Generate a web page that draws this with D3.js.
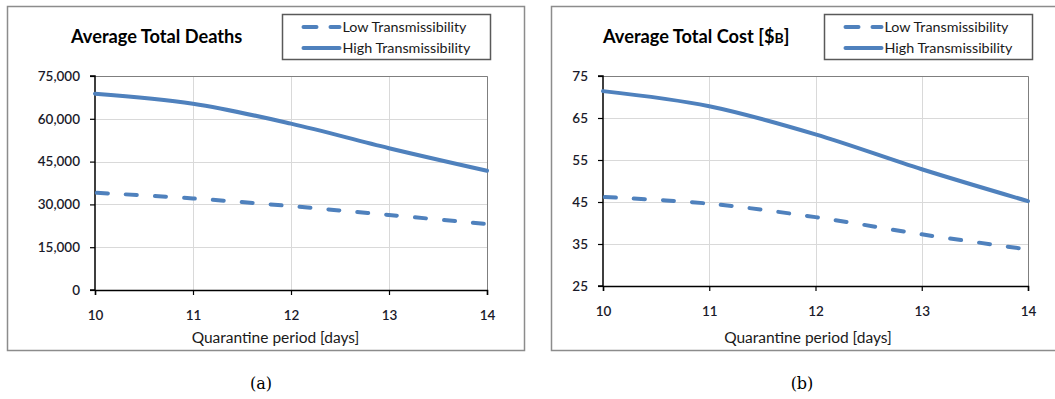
<!DOCTYPE html>
<html><head><meta charset="utf-8">
<script src="https://cdn.jsdelivr.net/npm/d3@7"></script>
<style>body{margin:0;background:#fff}svg{display:block}</style>
</head><body>
<svg id="c" width="1055" height="399"></svg>
<script>
const days = [10, 11, 12, 13, 14];
const deathsLow = [34100, 32100, 29400, 26300, 23100];
const deathsHigh = [68800, 65300, 58300, 49700, 41800];
const costLow = [46.2, 44.6, 41.4, 37.3, 33.7];
const costHigh = [71.4, 67.8, 61.1, 52.8, 45.2];
const deathTicks = [0, 15000, 30000, 45000, 60000, 75000];
const costTicks = [25, 35, 45, 55, 65, 75];
const seriesNames = ["Low Transmissibility", "High Transmissibility"];
const titles = ["Average Total Deaths", "Average Total Cost [$"];
const captions = ["(a)", "(b)"];
const xTitle = "Quarantine period [days]";

const svg = d3.select("#c");
const blue = "#4F81BD";
const font = "Lato, 'Open Sans', sans-serif";

const panels = [
  {frame:[7.5, 6.5, 517, 344], plot:[95, 76, 487, 290], yDom:[0, 75000], ticks: deathTicks, fmt: d3.format(","),
   low: deathsLow, high: deathsHigh, title: titles[0], titleX: 71, legend:[282.5, 14.5], cap: captions[0], capX: 261, xtX: 275.5},
  {frame:[551.5, 6.5, 520, 344], plot:[603, 76, 1028, 286], yDom:[25, 75], ticks: costTicks, fmt: d3.format("d"),
   low: costLow, high: costHigh, title: titles[1], titleX: 603, legend:[824.5, 14.5], cap: captions[1], capX: 802, xtX: 808}
];

panels.forEach(p => {
  const g = svg.append("g");
  g.append("rect").attr("x", p.frame[0]).attr("y", p.frame[1]).attr("width", p.frame[2]).attr("height", p.frame[3])
    .attr("fill", "#fff").attr("stroke", "#8c8c8c").attr("stroke-width", 1.5);
  const [x0, y0, x1, y1] = p.plot;
  const x = d3.scaleLinear().domain([10, 14]).range([x0, x1]);
  const y = d3.scaleLinear().domain(p.yDom).range([y1, y0]);

  // gridlines
  g.append("g").selectAll("line.h").data(p.ticks.slice(1)).join("line")
    .attr("x1", x0).attr("x2", x1).attr("y1", d => Math.round(y(d)) + 0.5).attr("y2", d => Math.round(y(d)) + 0.5)
    .attr("stroke", "#d9d9d9").attr("stroke-width", 1);
  g.append("g").selectAll("line.v").data(days.slice(1)).join("line")
    .attr("y1", y0).attr("y2", y1).attr("x1", d => Math.round(x(d)) + 0.5).attr("x2", d => Math.round(x(d)) + 0.5)
    .attr("stroke", "#d9d9d9").attr("stroke-width", 1);
  g.append("path").attr("d", `M${x0},${y0 + 0.5}H${x1 + 0.5}V${y1}`).attr("fill", "none").attr("stroke", "#7f7f7f").attr("stroke-width", 1);

  // axes
  const ya = d3.axisLeft(y).tickValues(p.ticks).tickFormat(p.fmt).tickSize(5).tickPadding(10);
  const ax = g.append("g").attr("transform", `translate(${x0},0)`).call(ya);
  const xa = d3.axisBottom(x).tickValues(days).tickFormat(d3.format("d")).tickSize(5).tickPadding(15);
  const bx = g.append("g").attr("transform", `translate(0,${y1})`).call(xa);
  [ax, bx].forEach(a => {
    a.select(".domain").attr("stroke", "#000").attr("stroke-width", 1.5);
    a.selectAll(".tick line").attr("stroke", "#000").attr("stroke-width", 1.2);
    a.selectAll("text").attr("font-family", font).attr("font-size", 13.5).attr("fill", "#1a1a2a").attr("font-weight", 600);
  });
  ax.select(".domain").attr("d", `M-5,${y1}H0V${y0}H-5`);

  // lines
  const line = d3.line().x((d, i) => x(days[i])).y(d => y(d)).curve(d3.curveCatmullRom.alpha(0));
  g.append("path").attr("d", line(p.high)).attr("fill", "none").attr("stroke", blue).attr("stroke-width", 4).attr("stroke-linecap", "round");
  g.append("path").attr("d", line(p.low)).attr("fill", "none").attr("stroke", blue).attr("stroke-width", 4)
    .attr("stroke-linecap", "round").attr("stroke-dasharray", "11,18").attr("stroke-dashoffset", -2);

  // title
  const t = g.append("text").attr("x", p.titleX).attr("y", 43).attr("font-family", font)
    .attr("font-size", 18.2).attr("font-weight", "bold").attr("fill", "#000").text(p.title);
  if (p.title.endsWith("$")) {
    t.append("tspan").attr("font-size", 14).text("B");
    t.append("tspan").text("]");
  }

  // legend
  const [lx, ly] = p.legend;
  g.append("rect").attr("x", lx).attr("y", ly).attr("width", 208).attr("height", 45).attr("fill", "#fff")
    .attr("stroke", "#595959").attr("stroke-width", 1.5);
  seriesNames.forEach((name, i) => {
    const yy = ly + 12.5 + i * 21;
    g.append("line").attr("x1", lx + 21).attr("x2", lx + 57).attr("y1", yy).attr("y2", yy)
      .attr("stroke", blue).attr("stroke-width", 4).attr("stroke-linecap", "round")
      .attr("stroke-dasharray", i === 0 ? "13,14" : null);
    g.append("text").attr("x", lx + 60).attr("y", yy + 5).attr("font-family", font).attr("font-size", 14.3)
      .attr("fill", "#1a1a1a").text(name);
  });

  // x title
  g.append("text").attr("x", p.xtX).attr("y", 343).attr("text-anchor", "middle")
    .attr("font-family", font).attr("font-size", 15.5).attr("fill", "#1a1a1a").text(xTitle);

  // caption
  svg.append("text").attr("x", p.capX).attr("y", 389).attr("text-anchor", "middle")
    .attr("font-family", "'DejaVu Serif', 'Liberation Serif', serif").attr("font-size", 16).attr("fill", "#000").text(p.cap);
});
</script>
</body></html>
